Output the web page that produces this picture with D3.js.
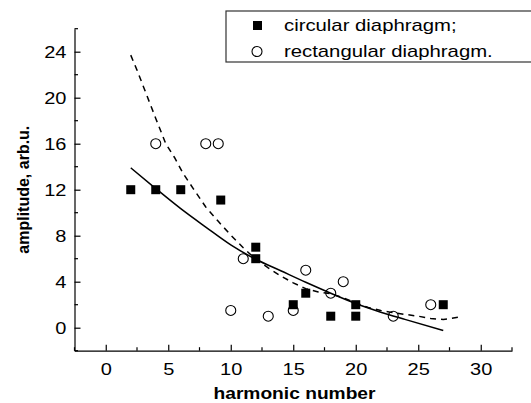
<!DOCTYPE html>
<html>
  <head>
    <meta charset="utf-8" />
    <script src="https://d3js.org/d3.v7.min.js"></script>
    <style>
      body { margin: 0; background: white; }
      text { font-family: "Liberation Sans", Arial, sans-serif; fill: #000; }
      .axis path, .axis line { stroke: black; stroke-width: 1.2px; }
    </style>
  </head>
  <body>
    <svg id="canvas" width="531" height="403"></svg>
    <script>
      // circular diaphragm (filled squares)
      let circX = [2, 4, 6, 9.2, 12, 12, 15, 16, 18, 20, 20, 27];
      let circY = [12, 12, 12, 11.1, 7, 6, 2, 3, 1, 2, 1, 2];
      // rectangular diaphragm (open circles)
      let rectX = [4, 8, 9, 10, 11, 13, 15, 16, 18, 19, 23, 26];
      let rectY = [16, 16, 16, 1.5, 6, 1, 1.5, 5, 3, 4, 1, 2];
      // solid curve
      let solidX = [2, 4, 6, 8, 10, 12, 14, 16, 18, 20, 22, 24, 27];
      let solidY = [13.9, 12.1, 10.35, 8.75, 7.2, 5.95, 4.95, 3.95, 3.0, 2.1, 1.35, 0.7, -0.25];
      // dashed curve
      let dashX = [2, 2.5, 3, 3.5, 4, 4.8, 5.5, 6.2, 7, 8, 9, 10, 11, 12, 13, 14, 15, 16, 17, 18, 19, 20, 21, 22, 23, 24, 25, 26, 27, 28.5];
      let dashY = [23.7, 22.4, 21.0, 19.6, 18.2, 16.0, 14.8, 13.4, 12.1, 10.5, 9.25, 8.05, 6.95, 5.95, 5.2, 4.5, 3.9, 3.4, 3.1, 2.95, 2.6, 2.15, 1.75, 1.5, 1.3, 1.15, 1.0, 0.8, 0.72, 0.95];
      let xTicks = [0, 5, 10, 15, 20, 25, 30];
      let yTicks = [0, 4, 8, 12, 16, 20, 24];
      let legendLabels = ["circular diaphragm;", "rectangular diaphragm."];

      const sx = 1.25; // text is drawn a bit wide in the original

      let svg = d3.select("#canvas");
      let xScale = d3.scaleLinear().domain([-2.5, 32.5]).range([74.5, 512]);
      let yScale = d3.scaleLinear().domain([-2, 26]).range([350.7, 28.7]);

      // x axis, ticks pointing inward
      let xAxis = svg.append("g")
        .attr("class", "axis")
        .attr("transform", "translate(0," + yScale(-2) + ")")
        .call(d3.axisBottom(xScale).tickValues(xTicks).tickSizeInner(-6).tickSizeOuter(0));
      xAxis.selectAll("text")
        .attr("y", 0).attr("dy", null).attr("fill", "#000")
        .attr("transform", "translate(0,24) scale(" + sx + ",1)")
        .style("font-size", "16px");
      xAxis.selectAll(".minor")
        .data(d3.range(-2.5, 33, 5))
        .enter().append("line")
        .attr("x1", (d) => xScale(d)).attr("x2", (d) => xScale(d))
        .attr("y1", 0).attr("y2", -3.5);

      // y axis
      let yAxis = svg.append("g")
        .attr("class", "axis")
        .attr("transform", "translate(" + xScale(-2.5) + ",0)")
        .call(d3.axisLeft(yScale).tickValues(yTicks).tickSizeInner(-6).tickSizeOuter(0));
      yAxis.selectAll("text")
        .attr("x", 0).attr("dy", "0.35em").attr("fill", "#000")
        .attr("transform", "translate(-8,0) scale(" + sx + ",1)")
        .style("font-size", "16px");
      yAxis.selectAll(".minor")
        .data(d3.range(-2, 27, 4))
        .enter().append("line")
        .attr("y1", (d) => yScale(d)).attr("y2", (d) => yScale(d))
        .attr("x1", 0).attr("x2", 3.5);
      svg.selectAll(".domain").attr("stroke", "black");

      // axis titles
      svg.append("text")
        .text("harmonic number")
        .attr("transform", "translate(" + xScale(15.1) + ",399) scale(1.2,1)")
        .attr("text-anchor", "middle")
        .style("font-size", "16px").style("font-weight", "bold");
      svg.append("text")
        .text("amplitude, arb.u.")
        .attr("transform", "translate(28.5," + yScale(12) + ") rotate(-90)")
        .attr("text-anchor", "middle")
        .style("font-size", "16px").style("font-weight", "bold");

      let line = d3.line()
        .x((d) => xScale(d[0]))
        .y((d) => yScale(d[1]));

      // dashed curve
      svg.append("path")
        .datum(dashX.map((x, i) => [x, dashY[i]]))
        .attr("d", line)
        .style("fill", "none").style("stroke", "black")
        .style("stroke-width", "1.5px").style("stroke-dasharray", "6,5");

      // solid curve
      svg.append("path")
        .datum(solidX.map((x, i) => [x, solidY[i]]))
        .attr("d", line.curve(d3.curveMonotoneX))
        .style("fill", "none").style("stroke", "black")
        .style("stroke-width", "1.5px");

      // squares
      svg.append("g").selectAll("rect")
        .data(circX.map((x, i) => [x, circY[i]]))
        .enter().append("rect")
        .attr("x", (d) => xScale(d[0]) - 4.5)
        .attr("y", (d) => yScale(d[1]) - 4.5)
        .attr("width", 9).attr("height", 9)
        .attr("fill", "black");

      // circles
      svg.append("g").selectAll("circle")
        .data(rectX.map((x, i) => [x, rectY[i]]))
        .enter().append("circle")
        .attr("cx", (d) => xScale(d[0]))
        .attr("cy", (d) => yScale(d[1]))
        .attr("r", 5)
        .attr("fill", "none").attr("stroke", "black").attr("stroke-width", 1.1);

      // legend
      let legend = svg.append("g");
      legend.append("rect")
        .attr("x", 226).attr("y", 11).attr("width", 320).attr("height", 51)
        .attr("fill", "white").attr("stroke", "#333").attr("stroke-width", 1.2);
      legend.append("rect")
        .attr("x", 253).attr("y", 21).attr("width", 9).attr("height", 9)
        .attr("fill", "black");
      legend.append("circle")
        .attr("cx", 257).attr("cy", 51.5).attr("r", 5)
        .attr("fill", "none").attr("stroke", "black").attr("stroke-width", 1.1);
      legend.selectAll(".lbl")
        .data(legendLabels)
        .enter().append("text")
        .text((d) => d)
        .attr("transform", (d, i) => "translate(284," + (31 + i * 26) + ") scale(1.27,1)")
        .style("font-size", "16px");
    </script>
  </body>
</html>
